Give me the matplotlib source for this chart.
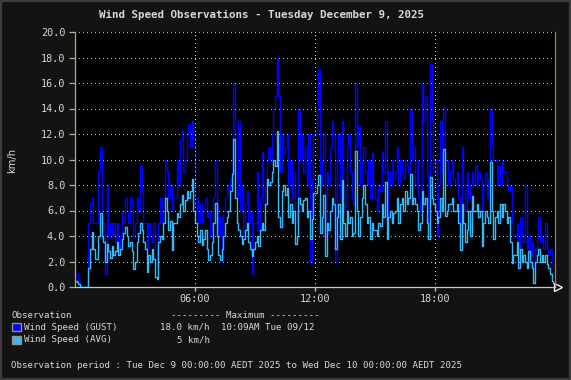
import numpy as np
import matplotlib
matplotlib.use("Agg")
from matplotlib import pyplot as plt
from matplotlib.patches import Rectangle

#----------------- data (5 minute samples, one row per hour) -----------------

gust_kmh = [
    1.0, 1.0, 0.5, 0, 0, 0, 0, 0, 5.0, 6.5, 7.0, 5.0,
    5.0, 5.0, 9.0, 11.0, 5.0, 5.0, 1.0, 8.0, 4.0, 5.0, 4.0, 5.0,
    3.5, 5.0, 3.0, 4.0, 6.0, 5.0, 7.0, 6.0, 5.0, 7.0, 6.5, 4.0,
    5.0, 7.0, 6.0, 9.5, 7.5, 5.0, 5.0, 3.0, 5.0, 4.0, 3.5, 5.0,
    3.0, 1.5, 5.0, 7.0, 5.0, 6.0, 10.0, 9.0, 7.0, 8.0, 6.0, 7.0,
    7.0, 10.0, 8.0, 11.5, 12.3, 9.0, 10.0, 12.0, 12.8, 11.0, 13.0, 12.0,
    6.0, 7.0, 5.0, 6.5, 5.0, 6.0, 7.0, 5.5, 6.0, 4.0, 5.0, 7.0,
    10.0, 6.5, 4.0, 5.5, 2.0, 6.0, 7.0, 8.0, 7.5, 8.5, 9.0, 16.0,
    9.0, 7.0, 13.0, 6.0, 8.0, 4.0, 6.5, 7.5, 5.0, 6.0, 1.0, 5.0,
    5.0, 9.0, 4.5, 7.0, 10.6, 6.5, 8.0, 10.0, 11.0, 10.0, 12.0, 14.0,
    15.0, 18.0, 15.0, 9.0, 12.0, 10.5, 11.0, 12.0, 8.0, 10.0, 7.0, 9.0,
    6.0, 5.0, 14.0, 10.0, 12.0, 9.0, 11.0, 8.0, 12.0, 2.0, 8.5, 12.0,
    12.0, 14.0, 17.0, 8.0, 10.0, 12.0, 4.0, 9.0, 8.0, 11.0, 13.0, 12.0,
    2.0, 10.0, 12.0, 7.0, 13.0, 8.0, 6.0, 11.0, 12.0, 9.0, 7.0, 6.5,
    16.0, 11.0, 12.6, 8.0, 10.0, 11.0, 9.0, 8.0, 10.0, 7.0, 10.5, 8.0,
    7.0, 6.0, 8.0, 7.5, 10.6, 9.0, 13.0, 5.0, 9.0, 8.0, 10.0, 8.5,
    9.0, 11.0, 8.0, 10.0, 9.0, 8.5, 10.0, 9.5, 9.0, 14.0, 10.0, 11.0,
    8.0, 10.0, 7.0, 6.0, 16.0, 13.0, 15.0, 9.0, 4.0, 17.5, 13.0, 9.0,
    10.0, 4.0, 8.0, 13.0, 9.0, 14.1, 10.0, 10.0, 8.0, 9.0, 10.0, 8.5,
    8.0, 9.0, 7.0, 4.0, 11.0, 8.0, 6.0, 9.0, 7.0, 8.0, 9.0, 8.0,
    9.5, 8.0, 9.0, 8.5, 6.0, 8.0, 9.0, 7.0, 8.5, 14.0, 11.0, 10.0,
    10.0, 8.0, 9.5, 8.0, 10.0, 9.0, 9.0, 8.0, 7.5, 8.0, 5.0, 4.0,
    4.0, 5.0, 3.0, 5.5, 4.0, 3.5, 8.0, 3.0, 4.0, 2.5, 3.5, 1.5,
    3.0, 4.0, 5.5, 3.5, 4.0, 3.0, 5.0, 3.0, 2.5, 3.0, 2.0, 1.5,
]

avg_kmh = [
    0.5, 0.4, 0.2, 0, 0, 0, 0, 0, 1.5, 3.0, 4.3, 3.0,
    2.2, 2.2, 4.0, 5.8, 4.0, 3.5, 2.0, 3.4, 2.8, 2.3, 3.2, 2.5,
    2.8, 3.5, 2.5, 3.0, 3.8, 4.2, 4.7, 4.0, 3.2, 3.5, 2.8, 1.4,
    2.0, 3.5, 4.2, 5.0, 4.5, 3.5, 3.0, 1.2, 2.5, 2.0, 3.0, 2.2,
    0.8, 0.6, 3.5, 4.0, 3.8, 5.0, 7.0, 6.0, 4.5, 5.2, 2.9, 5.0,
    5.0, 5.8, 5.5, 6.5, 7.2, 6.0, 6.8, 7.5, 7.0, 7.5, 8.5, 6.0,
    5.0, 4.0, 3.5, 4.5, 3.3, 3.8, 4.5, 3.0, 2.1, 2.5, 3.5, 5.0,
    6.6, 4.0, 2.5, 2.1, 3.0, 4.0, 5.0, 5.5, 6.0, 7.5, 8.9, 11.6,
    7.0, 5.0, 4.5, 4.0, 3.4, 3.8, 4.5, 5.0, 3.5, 3.0, 2.4, 3.0,
    3.5, 4.0, 3.2, 4.5, 5.0, 4.5, 6.5, 8.5, 8.0, 8.2, 9.0, 10.0,
    9.5, 12.2, 5.5, 4.7, 7.5, 8.0, 7.2, 7.8, 5.5, 6.5, 5.0, 6.0,
    3.4, 4.0, 7.0, 6.5, 6.0, 6.8, 7.0, 5.5, 6.0, 3.8, 5.3, 7.4,
    7.4, 8.0, 8.8, 4.2, 5.5, 7.2, 2.4, 5.0, 4.5, 6.0, 7.0, 6.5,
    3.0, 5.5, 6.5, 3.8, 8.4, 5.0, 4.0, 6.0, 5.0, 5.5, 4.0, 4.2,
    10.7, 6.0, 4.0, 5.5, 7.0, 8.0, 6.5, 5.0, 5.5, 3.8, 5.0, 4.5,
    4.5, 4.0, 5.0, 4.8, 6.5, 5.5, 8.2, 3.8, 5.5, 6.0, 5.0, 5.8,
    6.0, 7.0, 5.0, 6.5, 7.0, 6.0, 7.5, 6.5, 7.0, 8.9, 6.5, 7.0,
    6.5, 6.0, 4.5, 5.0, 7.5, 6.5, 7.0, 5.0, 3.8, 8.6, 7.0, 6.5,
    6.0, 5.0, 5.5, 7.0, 6.0, 10.8, 5.6, 6.0, 6.5, 6.5, 7.0, 6.0,
    6.0, 6.5, 5.0, 2.9, 6.5, 5.0, 3.5, 4.5, 6.0, 4.0, 7.1, 6.0,
    6.0, 6.5, 5.5, 6.0, 3.2, 5.0, 6.0, 5.5, 5.0, 9.8, 6.0, 3.8,
    5.5, 6.0, 5.0, 6.5, 5.5, 6.5, 6.0, 5.0, 5.5, 3.5, 1.9, 2.5,
    2.5, 3.5, 1.5, 3.0, 2.0, 2.5, 2.0, 1.5, 2.8, 2.0, 1.5, 0.3,
    2.0, 2.5, 3.0, 2.0, 2.5, 2.0, 2.5, 1.8, 1.5, 1.0, 0.5, 0.3,
]

sample_minutes = 5
y_ticks = [0, 2, 4, 6, 8, 10, 12, 14, 16, 18, 20]
x_ticks = [6, 12, 18]
x_tick_labels = ["06:00", "12:00", "18:00"]

title = "Wind Speed Observations - Tuesday December 9, 2025"
series_names = ["Wind Speed (GUST)", "Wind Speed (AVG)"]
series_max = ["18.0 km/h", "5 km/h"]
series_max_time = ["10:09AM Tue 09/12", ""]
period = ("Observation period : Tue Dec 9 00:00:00 AEDT 2025 "
          "to Wed Dec 10 00:00:00 AEDT 2025")

#----------------- style -----------------

W, H = 571, 380
bg = "#131313"
fg = "#d8d8d8"
gust_col = "#0000ff"
avg_col = "#38b8f8"
grid_col = "#a8c898"
mono = "DejaVu Sans Mono"
one_px = 0.72  # points

def px(x, y):
    return x / W, 1 - y / H

fig = plt.figure(figsize=(W / 100, H / 100), dpi=100, facecolor=bg)
fig.patches.append(Rectangle((0, 0), 1, 1, transform=fig.transFigure,
                             fill=False, edgecolor="#3c3c3c", linewidth=3))

left, right, top, bottom = 75, 555, 32, 287
ax = fig.add_axes([left / W, 1 - bottom / H, (right - left) / W, (bottom - top) / H])
ax.set_facecolor("black")

t = np.arange(len(gust_kmh)) * sample_minutes / 60.0
ax.step(t, gust_kmh, where="post", color=gust_col, linewidth=1.0)
ax.step(t, avg_kmh, where="post", color=avg_col, linewidth=1.0)

ax.set_xlim(0, 24)
ax.set_ylim(0, 20)
ax.set_yticks(y_ticks)
ax.set_yticklabels(["%.1f" % v for v in y_ticks])
ax.set_xticks(x_ticks)
ax.set_xticklabels(x_tick_labels)

for y in y_ticks[1:]:
    ax.axhline(y, color=grid_col, linestyle=(0, (1, 3)), linewidth=one_px,
               antialiased=False)
for x in x_ticks:
    ax.axvline(x, color="#c8d0c0", linestyle=(0, (1, 3)), linewidth=one_px,
               antialiased=False)

ax.spines["top"].set_visible(False)
ax.spines["left"].set_color("#9ab88a")
ax.spines["bottom"].set_color("#c0d0b0")
ax.spines["right"].set_color("#8c8c3c")
for s in ax.spines.values():
    s.set_linewidth(0.9)

ax.tick_params(axis="y", colors="#9ab88a", labelcolor=fg, length=4, width=0.9,
               pad=3, labelsize=7.3)
ax.tick_params(axis="x", colors="#c8d0c0", labelcolor=fg, length=3, width=0.9,
               pad=2, labelsize=7.3)
for lab in ax.get_xticklabels() + ax.get_yticklabels():
    lab.set_family(mono)

# little arrow at the end of the time axis
ax.plot([24.15], [0], marker=">", markersize=6, markerfacecolor="none",
        markeredgecolor="white", clip_on=False, markeredgewidth=0.9)

#----------------- texts -----------------

fig.text(*px(261.5, 15), title, ha="center", va="center", color=fg,
         family=mono, fontsize=7.8, fontweight="bold")
fig.text(*px(12, 160), "km/h", ha="center", va="center", rotation=90,
         color=fg, fontsize=7.2, family="DejaVu Sans")

lsize = 6.6
fig.text(*px(11, 315), "Observation", ha="left", va="center", color=fg,
         family=mono, fontsize=lsize)
fig.text(*px(171, 315), "--------- Maximum ---------", ha="left", va="center",
         color=fg, family=mono, fontsize=lsize)

for i, (name, mx, when, col) in enumerate(zip(series_names, series_max,
                                              series_max_time, [gust_col, avg_col])):
    yc = 327 + i * 13
    fig.patches.append(Rectangle(px(12, yc + 4.3), 8.5 / W, 8.5 / H,
                                 transform=fig.transFigure, facecolor=col,
                                 edgecolor="#909090", linewidth=1))
    fig.text(*px(24, yc), name, ha="left", va="center", color=fg,
             family=mono, fontsize=lsize)
    fig.text(*px(209.5, yc), mx, ha="right", va="center", color=fg,
             family=mono, fontsize=lsize)
    if when:
        fig.text(*px(221, yc), when, ha="left", va="center", color=fg,
                 family=mono, fontsize=lsize)

fig.text(*px(11, 366), period, ha="left", va="center", color=fg,
         family=mono, fontsize=lsize)

plt.savefig("out.png", dpi=100, facecolor=bg)
